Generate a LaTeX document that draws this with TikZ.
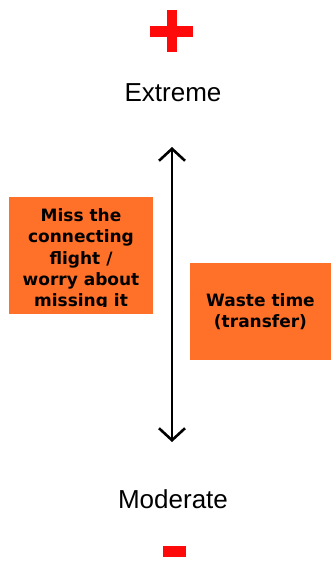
\documentclass[tikz,border=0pt]{standalone}
\usepackage{fontspec}
\setmainfont{Liberation Sans}
\newfontfamily\notefont{DejaVu Sans}
\usetikzlibrary{arrows.meta}
\definecolor{noteorange}{HTML}{FF7029}
\definecolor{signred}{HTML}{FF0A0A}
\tikzset{
  note/.style={fill=noteorange,inner sep=0pt},
  notetext/.style={align=center,font=\notefont\bfseries\fontsize{17}{21.3}\selectfont},
  endlabel/.style={anchor=base,font=\fontsize{26}{30}\selectfont}
}
\begin{document}
\begin{tikzpicture}[x=1pt,y=-1pt]
        \useasboundingbox (0,0) rectangle (331,562);
        % plus and minus signs
        \fill[signred] (150,26) rectangle (193,37);
        \fill[signred] (166.5,10) rectangle (177,52);
        \fill[signred] (163,546) rectangle (186,557);
        \node[endlabel] (extreme) at (173,101) {Extreme};
        \node[endlabel] (moderate) at (173,508) {Moderate};
        % scale arrow
        \coordinate (high) at (172,147);
        \coordinate (low) at (172,442);
        \draw[line width=2.6pt,{Straight Barb[length=12pt,width=26pt]}-{Straight Barb[length=12pt,width=26pt]}] (high) -- (low);
        % the two notes, the long one cut off inside its padding
        \node[note,minimum width=144,minimum height=117] (miss) at (81,255.5) {};
        \begin{scope}
          \clip (miss.south west) ++(0,-8) rectangle (miss.north east);
          \node[notetext] (misstext) at (81,259.5) {Miss the\\connecting\\flight /\\worry about\\missing it};
        \end{scope}
        \node[note,minimum width=141,minimum height=97] (waste) at (260.5,311.5) {};
        \node[notetext] (wastetext) at (waste.center) {Waste time\\(transfer)};
      \end{tikzpicture}
\end{document}
